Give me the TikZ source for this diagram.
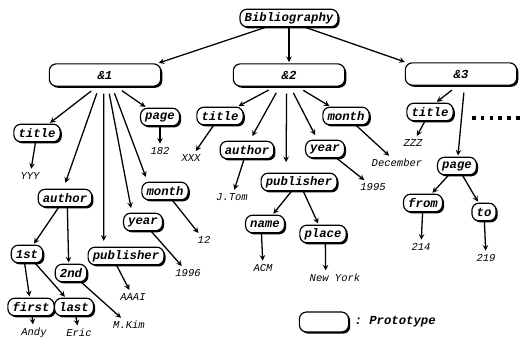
\documentclass[tikz,border=0pt]{standalone}
\usepackage{fontspec}
\setmonofont{Liberation Mono}
\usetikzlibrary{shadows,positioning}

\tikzset{
  proto/.style={draw, line width=1pt, rounded corners=6pt, fill=white,
    minimum height=15pt, inner xsep=4pt, inner ysep=1pt,
    font=\fontsize{10.5}{12}\selectfont\ttfamily\bfseries\itshape,
    drop shadow={shadow xshift=1.4pt, shadow yshift=-1.4pt, opacity=1, fill=black}},
  entry/.style={proto, minimum width=95pt, minimum height=19pt},
  val/.style={font=\fontsize{9}{10}\selectfont\ttfamily\itshape, inner sep=2pt},
  arr/.style={-stealth, line width=1.1pt, shorten >=1pt},
  fan/.style={arr, shorten <=6pt},
}

\begin{document}
\begin{tikzpicture}[x=0.03cm, y=-0.03cm]
  \useasboundingbox (0,0) rectangle (528,339);

  \node[proto] (bib) at (289,18) {Bibliography};
  \node[entry] (a1) at (105,75) {\&1};
  \node[entry] (a2) at (289,75) {\&2};
  \node[entry] (a3) at (461,74) {\&3};

  \draw[arr] ([xshift=-20pt]bib.south) -- ([xshift=-3pt]a1.north east);
  \draw[arr] (bib) -- (a2);
  \draw[arr] ([xshift=14pt]bib.south) -- ([xshift=1pt]a3.north west);

  % &1
  \node[proto] (title1) at (37,133) {title};
  \node[val] (yyy) at (30,176) {YYY};
  \node[proto] (page1) at (160,117) {page};
  \node[val] (v182) at (160,151) {182};
  \node[proto] (author1) at (65,198) {author};
  \node[proto] (month1) at (165,191) {month};
  \node[val] (v12) at (204,240) {12};
  \node[proto] (year1) at (143,222) {year};
  \node[val] (v1996) at (188,273) {1996};
  \node[proto] (pub1) at (126,256) {publisher};
  \node[val] (aaai) at (133,297) {AAAI};
  \node[proto] (nth1) at (27,254) {1st};
  \node[proto] (nth2) at (71,273) {2nd};
  \node[proto] (fname) at (31,307) {first};
  \node[proto] (lname) at (74,307) {last};
  \node[val] (andy) at (34,333) {Andy};
  \node[val] (eric) at (79,333) {Eric};
  \node[val] (mkim) at (129,325) {M.Kim};

  \draw[fan] ([xshift=-7pt]a1.south) -- (title1);
  \draw[fan] ([xshift=-5pt]a1.south) -- ([yshift=4pt]author1.north);
  \draw[fan] ([xshift=-1pt]a1.south) -- ([xshift=-19pt,yshift=4pt]pub1.north);
  \draw[fan] ([xshift=2.5pt]a1.south) -- ([xshift=-10pt,yshift=3pt]year1.north);
  \draw[fan] ([xshift=6pt]a1.south) -- ([xshift=-16pt,yshift=3pt]month1.north);
  \draw[fan] ([xshift=9.5pt]a1.south) -- (page1);
  \draw[arr] (page1) -- (v182);
  \draw[arr] (title1) -- (yyy);
  \draw[arr] (author1) -- (nth1);
  \draw[arr] ([xshift=2pt]author1.south) -- ([xshift=-2pt]nth2.north);
  \draw[arr] ([xshift=-2pt]nth1.south) -- (fname);
  \draw[arr] (nth1) -- (lname);
  \draw[arr] (nth2) -- (mkim);
  \draw[arr] (fname) -- (andy);
  \draw[arr] (lname) -- (eric);
  \draw[arr] ([xshift=-8pt]pub1.south) -- (aaai);
  \draw[arr] (year1) -- (v1996);
  \draw[arr] (month1) -- (v12);

  % &2
  \node[proto] (title2) at (220,116) {title};
  \node[val] (xxx) at (191,158) {XXX};
  \node[proto] (author2) at (247,150) {author};
  \node[val] (jtom) at (232,197) {J.Tom};
  \node[proto] (pub2) at (299,182) {publisher};
  \node[proto] (pname) at (265,224) {name};
  \node[val] (acm) at (263,268) {ACM};
  \node[proto] (place) at (323,234) {place};
  \node[val] (newyork) at (335,278) {New York};
  \node[proto] (year2) at (325,149) {year};
  \node[val] (v1995) at (373,187) {1995};
  \node[proto] (month2) at (346,116) {month};
  \node[val] (dec) at (397,163) {December};

  \draw[fan] ([xshift=-12pt]a2.south) -- (title2);
  \draw[fan] ([xshift=-8pt]a2.south) -- ([xshift=4pt,yshift=3pt]author2.north);
  \draw[fan] ([xshift=-2pt]a2.south) -- ([xshift=-11pt,yshift=8pt]pub2.north);
  \draw[fan] ([xshift=1pt]a2.south) -- ([xshift=-8pt,yshift=3pt]year2.north);
  \draw[fan] ([xshift=7pt]a2.south) -- (month2);
  \draw[arr] (title2) -- (xxx);
  \draw[arr] (author2) -- (jtom);
  \draw[arr] (pub2) -- (pname);
  \draw[arr] (pub2) -- (place);
  \draw[arr] ([xshift=-3pt]pname.south) -- (acm);
  \draw[arr] ([xshift=2pt]place.south) -- ([xshift=-8pt]newyork.north);
  \draw[arr] (year2) -- (v1995);
  \draw[arr] (month2) -- (dec);

  % &3
  \node[proto] (title3) at (430,112) {title};
  \node[val] (zzz) at (413,143) {ZZZ};
  \node[proto] (page3) at (457,166) {page};
  \node[proto] (pfrom) at (423,203) {from};
  \node[proto] (pto) at (484,212) {to};
  \node[val] (v214) at (421,247) {214};
  \node[val] (v219) at (486,258) {219};

  \draw[fan] ([xshift=-3pt]a3.south) -- ([xshift=5pt]title3.north);
  \draw[fan] ([xshift=3pt]a3.south) -- (page3);
  \draw[arr] (title3) -- (zzz);
  \draw[arr] (page3) -- (pfrom);
  \draw[arr] (page3) -- (pto);
  \draw[arr] (pfrom) -- (v214);
  \draw[arr] (pto) -- (v219);

  \foreach \i in {0,...,5}
    \fill (472+\i*8.8,116.5) rectangle +(3.5,3.5);

  % legend
  \node[proto, minimum width=42pt, minimum height=17pt] (legend) at (324,322) {};
  \node[right=1pt of legend, font=\fontsize{10.5}{12}\selectfont\ttfamily\bfseries\itshape] (legendtxt) {: Prototype};
\end{tikzpicture}
\end{document}
